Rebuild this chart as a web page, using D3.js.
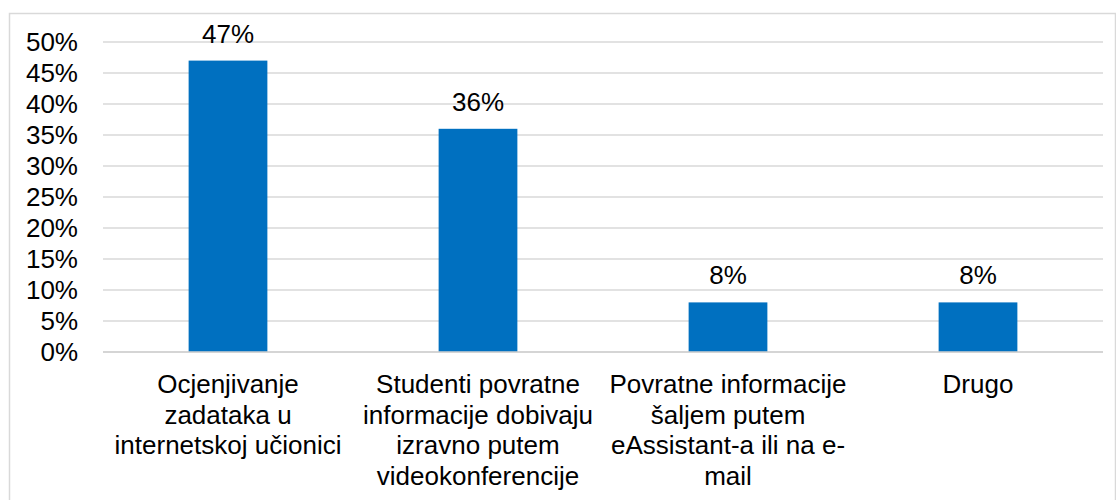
<!DOCTYPE html>
<html>
<head>
<meta charset="utf-8">
<script src="https://cdn.jsdelivr.net/npm/d3@7"></script>
<style>
  body { margin: 0; background: #fff; }
  text { font-family: "Liberation Sans", Arial, sans-serif; fill: #000; }
</style>
</head>
<body>
<div id="chart"></div>
<script>
// data
const categories = [
    ["Ocjenjivanje", "zadataka u", "internetskoj učionici"],
    ["Studenti povratne", "informacije dobivaju", "izravno putem", "videokonferencije"],
    ["Povratne informacije", "šaljem putem", "eAssistant-a ili na e-", "mail"],
    ["Drugo"]
]
const values = [47, 36, 8, 8]
const yTicks = [0, 5, 10, 15, 20, 25, 30, 35, 40, 45, 50]

const W = 1116, H = 500
const margin = {top: 42, right: 13, bottom: 148, left: 103}
const width = W - margin.left - margin.right
const height = H - margin.top - margin.bottom

const root = d3.select("#chart").append("svg")
    .attr("width", W)
    .attr("height", H)

// chart area border
root.append("rect")
    .attr("x", 9.5).attr("y", 13.5)
    .attr("width", W - 10).attr("height", H)
    .attr("fill", "none")
    .attr("stroke", "#d9d9d9")
    .attr("stroke-width", 1.5)

const svg = root.append("g")
    .attr("transform", `translate(${margin.left},${margin.top})`)

const x = d3.scaleBand()
    .domain(d3.range(categories.length))
    .range([0, width])
    .paddingInner(0.685)
    .paddingOuter(0.3425)

const y = d3.scaleLinear()
    .domain([0, 50])
    .range([height, 0])

// gridlines
svg.append("g")
    .selectAll("line")
    .data(yTicks)
    .join("line")
        .attr("x1", 0).attr("x2", width)
        .attr("y1", d => y(d)).attr("y2", d => y(d))
        .attr("stroke", "#d9d9d9")
        .attr("stroke-width", 1.3)

// y axis labels
const yAx = d3.axisLeft(y)
    .tickValues(yTicks)
    .tickFormat(d => d + "%")
    .tickSize(0)
    .tickPadding(25)

svg.append("g")
    .call(yAx)
    .call(g => g.select(".domain").remove())
    .selectAll("text")
        .attr("font-size", 26)
        .attr("font-family", "Liberation Sans, Arial, sans-serif")
        .attr("fill", "#000")

// bars
svg.append("g")
    .selectAll("rect")
    .data(values)
    .join("rect")
        .attr("x", (d, i) => x(i))
        .attr("y", d => y(d))
        .attr("width", x.bandwidth())
        .attr("height", d => height - y(d))
        .attr("fill", "#0070C0")

// value labels
svg.append("g")
    .selectAll("text")
    .data(values)
    .join("text")
        .attr("x", (d, i) => x(i) + x.bandwidth() / 2)
        .attr("y", d => y(d) - 18)
        .attr("text-anchor", "middle")
        .attr("font-size", 26)
        .text(d => d + "%")

// baseline
svg.append("line")
    .attr("x1", 0).attr("x2", width)
    .attr("y1", height).attr("y2", height)
    .attr("stroke", "#d0d0d0")
    .attr("stroke-width", 1.3)

// category labels
const cat = svg.append("g")
    .selectAll("text")
    .data(categories)
    .join("text")
        .attr("x", (d, i) => x(i) + x.bandwidth() / 2)
        .attr("y", height + 41)
        .attr("text-anchor", "middle")
        .attr("font-size", 26)

cat.selectAll("tspan")
    .data(d => d)
    .join("tspan")
        .attr("x", function() { return this.parentNode.getAttribute("x") })
        .attr("dy", (d, i) => i === 0 ? 0 : 30.5)
        .text(d => d)
</script>
</body>
</html>
